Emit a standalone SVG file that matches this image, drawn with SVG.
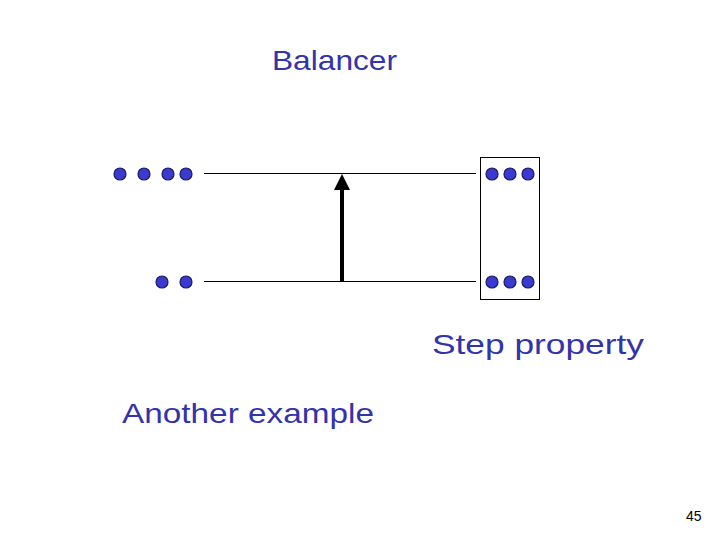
<svg xmlns="http://www.w3.org/2000/svg" width="720" height="540" viewBox="0 0 720 540">
<style>
.t{font-family:"Comic Sans MS","Liberation Sans",sans-serif;fill:#3333aa;font-size:28px}
.d{fill:#3a3ad0;stroke:#1a1a60;stroke-width:1.2}
.w{stroke:#000;stroke-width:1}
</style>
<defs>
<marker id="ah" markerWidth="4" markerHeight="4" refX="2" refY="2" orient="auto" markerUnits="strokeWidth" viewBox="0 0 4 4">
<path d="M0,0 L4,2 L0,4 z" fill="#000"/>
</marker>
</defs>
<rect width="720" height="540" fill="#fff"/>
<text class="t" x="272" y="70" textLength="125" lengthAdjust="spacingAndGlyphs">Balancer</text>
<text class="t" x="432" y="354" textLength="212" lengthAdjust="spacingAndGlyphs">Step property</text>
<text class="t" x="122" y="423" textLength="252" lengthAdjust="spacingAndGlyphs">Another example</text>
<text x="686" y="521" font-family="Liberation Sans,sans-serif" font-size="14" fill="#000">45</text>
<g id="connectors">
<line class="w" x1="204" y1="173.5" x2="476" y2="173.5"/>
<line class="w" x1="204" y1="281.5" x2="476" y2="281.5"/>
<line x1="342" y1="282" x2="342" y2="182" stroke="#000" stroke-width="4" marker-end="url(#ah)"/>
</g>
<g id="balancer">
<rect x="480.5" y="157.5" width="59" height="142" fill="none" stroke="#000" stroke-width="1"/>
<circle class="d" cx="492" cy="174" r="6"/>
<circle class="d" cx="510" cy="174" r="6"/>
<circle class="d" cx="528" cy="174" r="6"/>
<circle class="d" cx="492" cy="282" r="6"/>
<circle class="d" cx="510" cy="282" r="6"/>
<circle class="d" cx="528" cy="282" r="6"/>
</g>
<g id="input-top">
<circle class="d" cx="120" cy="174" r="6"/>
<circle class="d" cx="144" cy="174" r="6"/>
<circle class="d" cx="168" cy="174" r="6"/>
<circle class="d" cx="186" cy="174" r="6"/>
</g>
<g id="input-bottom">
<circle class="d" cx="162" cy="282" r="6"/>
<circle class="d" cx="186" cy="282" r="6"/>
</g>
</svg>
